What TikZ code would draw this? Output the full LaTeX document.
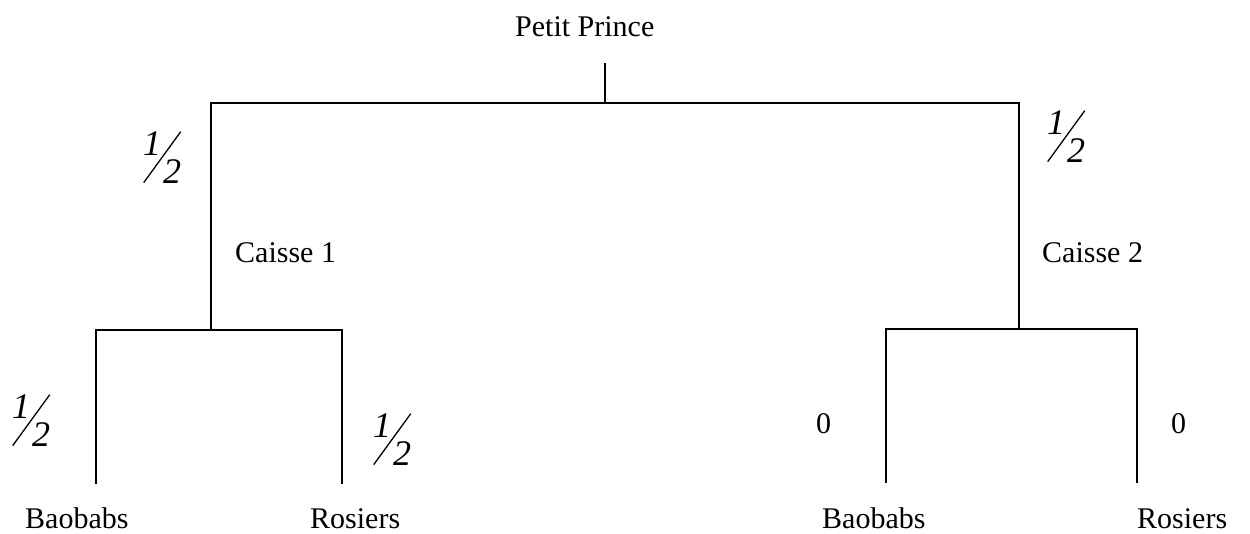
\documentclass[tikz,border=0pt]{standalone}
\usepackage{fontspec}
\setmainfont{Liberation Serif}
\usepackage{graphicx}
\newcommand\halffrac{\fontsize{36}{36}\selectfont\itshape
  \makebox[0pt][l]{\raisebox{28pt}{1}}%
  \makebox[0pt][l]{\rotatebox{54}{\rule{63pt}{1.3pt}}}%
  \hspace*{20pt}2}
\tikzset{
  lbl/.style={inner sep=0pt, anchor=base west, font=\fontsize{30}{30}\selectfont},
  frac/.style={inner sep=0pt, anchor=base west},
  branch/.style={line width=1.6pt, line cap=rect}
}
\begin{document}
\begin{tikzpicture}[x=1pt,y=-1pt]
\useasboundingbox (0,0) rectangle (1250,533);
% labels
\node[lbl] (root) at (515,36) {Petit Prince};
\node[lbl] (c1) at (235,262) {Caisse 1};
\node[lbl] (c2) at (1042,262) {Caisse 2};
\node[lbl] (b1) at (25,528) {Baobabs};
\node[lbl] (r1) at (310,528) {Rosiers};
\node[lbl] (b2) at (822,528) {Baobabs};
\node[lbl] (r2) at (1137,528) {Rosiers};
% probabilities
\node[frac] (pA) at (143,183) {\halffrac};
\node[frac] (pB) at (1047,162) {\halffrac};
\node[frac] (pC) at (12,446) {\halffrac};
\node[frac] (pD) at (373,465) {\halffrac};
\node[lbl] (z1) at (816,433) {0};
\node[lbl] (z2) at (1171,433) {0};
% tree coordinates
\coordinate (top) at (605,64);
\coordinate (mid) at (605,103);
\coordinate (L) at (211,103);
\coordinate (R) at (1019,103);
\coordinate (Ld) at (211,330);
\coordinate (Rd) at (1019,329);
\coordinate (LL) at (96,330);
\coordinate (LR) at (342,330);
\coordinate (RL) at (886,329);
\coordinate (RR) at (1137,329);
\coordinate (LLe) at (96,483);
\coordinate (LRe) at (342,483);
\coordinate (RLe) at (886,482);
\coordinate (RRe) at (1137,482);
% branches
\draw[branch] (top) -- (mid);
\draw[branch] (Ld) -- (L) -- (R) -- (Rd);
\draw[branch] (LLe) -- (LL) -- (LR) -- (LRe);
\draw[branch] (RLe) -- (RL) -- (RR) -- (RRe);
\end{tikzpicture}
\end{document}
